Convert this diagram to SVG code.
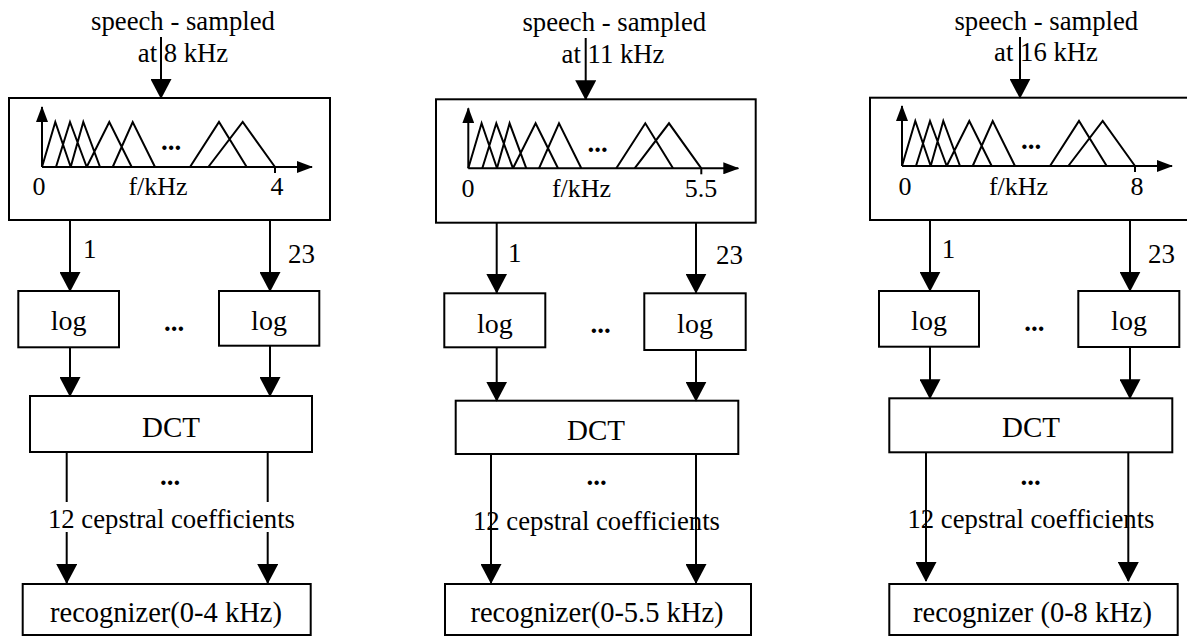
<svg xmlns="http://www.w3.org/2000/svg" xmlns:xlink="http://www.w3.org/1999/xlink" width="1187" height="637" viewBox="0 0 1187 637">
<style>
text{font-family:"Liberation Serif","Times New Roman",serif;font-size:27px;fill:#000}
.c{text-anchor:middle}
.t{font-size:26.7px}
.ax{font-size:26px}
.lg{font-size:28px}
.dc{font-size:29px}
.rc{font-size:28.5px}
.cc{font-size:26.7px}
.box{fill:#fff;stroke:#000;stroke-width:2}
.ln{stroke:#000;stroke-width:2;fill:none}
.arr{stroke:#000;stroke-width:2;fill:none;marker-end:url(#ah)}
.tri{stroke:#000;stroke-width:2;fill:none;stroke-linejoin:miter}
.dots{font-weight:bold;text-anchor:middle}
</style>
<defs>
<marker id="ah" markerUnits="userSpaceOnUse" viewBox="0 0 20 21" refX="19" refY="10.5" markerWidth="20" markerHeight="21" orient="auto"><path d="M0,0 L20,10.5 L0,21 z" fill="#000"/></marker>
<marker id="ax" markerUnits="userSpaceOnUse" viewBox="0 0 16 12" refX="15" refY="6" markerWidth="16" markerHeight="12" orient="auto"><path d="M0,0 L16,6 L0,12 z" fill="#000"/></marker>
<g id="fb">
<path class="tri" d="M0,0 L13.3,-45 L28.7,0 M14,0 L28,-45 L44.7,0 M28.7,0 L41.3,-45 L58,0 M44.7,0 L67.3,-45 L89.7,0 M70.7,0 L90.7,-45 L113,0 M148,0 L177,-45 L204.7,0 M166.3,0 L200.7,-45 L233,0"/>
<line class="ln" x1="0" y1="0" x2="0" y2="-60" style="marker-end:url(#ax)"/>
<line class="ln" x1="0" y1="0" x2="270" y2="0" style="marker-end:url(#ax)"/>
<line class="ln" x1="233" y1="0" x2="233" y2="6"/>
</g>
</defs>
<rect width="1187" height="637" fill="#fff"/>

<!-- Panel 1 -->
<g id="p1-input"><text class="c t" x="183" y="30">speech - sampled</text><text class="c t" x="183" y="62">at 8 kHz</text></g>
<g id="p1-filterbank">
<rect class="box" x="9" y="98" width="321" height="122"/>
<use xlink:href="#fb" href="#fb" transform="translate(42,167)"/>
<text class="dots" x="171" y="150">...</text>
<text class="c ax" x="39" y="195">0</text><text class="c ax" x="158" y="195">f/kHz</text><text class="c ax" x="277" y="195">4</text>
</g>
<g id="p1-log1"><rect class="box" x="18.3" y="291" width="100.7" height="56.3"/><text class="c lg" x="68.6" y="330">log</text></g>
<g id="p1-log23"><rect class="box" x="219" y="291" width="100.3" height="54.7"/><text class="c lg" x="269" y="330">log</text></g>
<text class="dots" x="174" y="331">...</text>
<g id="p1-dct"><rect class="box" x="30" y="396" width="282" height="56"/><text class="c dc" x="171" y="437">DCT</text></g>
<g id="p1-rec"><rect class="box" x="22.7" y="584" width="288" height="51"/><text class="c rc" x="166" y="622">recognizer(0-4 kHz)</text></g>
<text class="dots" x="170" y="485">...</text>
<text class="c cc" x="171.5" y="528">12 cepstral coefficients</text>

<!-- Panel 2 -->
<g id="p2-input"><text class="c t" x="614.3" y="31">speech - sampled</text><text class="c t" x="613" y="63">at 11 kHz</text></g>
<g id="p2-filterbank">
<rect class="box" x="436" y="99.3" width="319.7" height="123.4"/>
<use xlink:href="#fb" href="#fb" transform="translate(468.3,168.3)"/>
<text class="dots" x="597.5" y="152">...</text>
<text class="c ax" x="468" y="197">0</text><text class="c ax" x="581.5" y="197">f/kHz</text><text class="c ax" x="701" y="197">5.5</text>
</g>
<g id="p2-log1"><rect class="box" x="444.3" y="293.3" width="101" height="54"/><text class="c lg" x="494.8" y="333">log</text></g>
<g id="p2-log23"><rect class="box" x="644.3" y="293.3" width="101.4" height="56.7"/><text class="c lg" x="695" y="333">log</text></g>
<text class="dots" x="600.5" y="333">...</text>
<g id="p2-dct"><rect class="box" x="455.7" y="400.7" width="282.6" height="53.3"/><text class="c dc" x="596" y="440">DCT</text></g>
<g id="p2-rec"><rect class="box" x="445" y="584" width="306" height="51"/><text class="c rc" x="597" y="622">recognizer(0-5.5 kHz)</text></g>
<text class="dots" x="596.5" y="485">...</text>
<text class="c cc" x="596.5" y="530">12 cepstral coefficients</text>

<!-- Panel 3 -->
<g id="p3-input"><text class="c t" x="1046.3" y="30">speech - sampled</text><text class="c t" x="1046" y="61">at 16 kHz</text></g>
<g id="p3-filterbank">
<rect class="box" x="870" y="97.7" width="330" height="122.3"/>
<use xlink:href="#fb" href="#fb" transform="translate(902,166)"/>
<text class="dots" x="1031" y="149">...</text>
<text class="c ax" x="905" y="195">0</text><text class="c ax" x="1018.5" y="195">f/kHz</text><text class="c ax" x="1137" y="195">8</text>
</g>
<g id="p3-log1"><rect class="box" x="879" y="291" width="100" height="55.7"/><text class="c lg" x="929" y="330">log</text></g>
<g id="p3-log23"><rect class="box" x="1078.3" y="291" width="101" height="56"/><text class="c lg" x="1129" y="330">log</text></g>
<text class="dots" x="1034.3" y="331">...</text>
<g id="p3-dct"><rect class="box" x="889.3" y="398.3" width="283" height="54"/><text class="c dc" x="1031" y="437">DCT</text></g>
<g id="p3-rec"><rect class="box" x="889.3" y="584" width="288.4" height="51"/><text class="c rc" x="1032.5" y="622">recognizer (0-8 kHz)</text></g>
<text class="dots" x="1030.7" y="485">...</text>
<text class="c cc" x="1031" y="528">12 cepstral coefficients</text>

<g id="connectors">
<line class="arr" x1="161" y1="37" x2="161" y2="98"/>
<line class="arr" x1="70" y1="220" x2="70" y2="291"/>
<line class="arr" x1="270" y1="220" x2="270" y2="291"/>
<line class="arr" x1="70" y1="347.3" x2="70" y2="396"/>
<line class="arr" x1="270" y1="345.7" x2="270" y2="396"/>
<line class="ln" x1="66.7" y1="452" x2="66.7" y2="502"/>
<line class="ln" x1="267.7" y1="452" x2="267.7" y2="502"/>
<line class="arr" x1="66.7" y1="532" x2="66.7" y2="583"/>
<line class="arr" x1="267.7" y1="532" x2="267.7" y2="583"/>

<line class="arr" x1="585.7" y1="38" x2="585.7" y2="99.3"/>
<line class="arr" x1="496.7" y1="222.7" x2="496.7" y2="292.7"/>
<line class="arr" x1="696" y1="222.7" x2="696" y2="292.7"/>
<line class="arr" x1="496.7" y1="347.3" x2="496.7" y2="400.7"/>
<line class="arr" x1="696" y1="350" x2="696" y2="400.7"/>
<line class="arr" x1="491" y1="454" x2="491" y2="583"/>
<line class="arr" x1="696" y1="454" x2="696" y2="583"/>

<line class="arr" x1="1020" y1="37" x2="1020" y2="97.7"/>
<line class="arr" x1="930" y1="220" x2="930" y2="290.7"/>
<line class="arr" x1="1130" y1="220" x2="1130" y2="290.7"/>
<line class="arr" x1="930" y1="346.7" x2="930" y2="398.3"/>
<line class="arr" x1="1130" y1="347" x2="1130" y2="398.3"/>
<line class="arr" x1="926" y1="452.3" x2="926" y2="581"/>
<line class="arr" x1="1128.3" y1="452.3" x2="1128.3" y2="581"/>
</g>
<g id="labels">
<text x="83" y="258">1</text><text x="288" y="263">23</text>
<text x="508" y="261.7">1</text><text x="716" y="264">23</text>
<text x="941.7" y="258">1</text><text x="1148" y="263">23</text>
</g>
</svg>
